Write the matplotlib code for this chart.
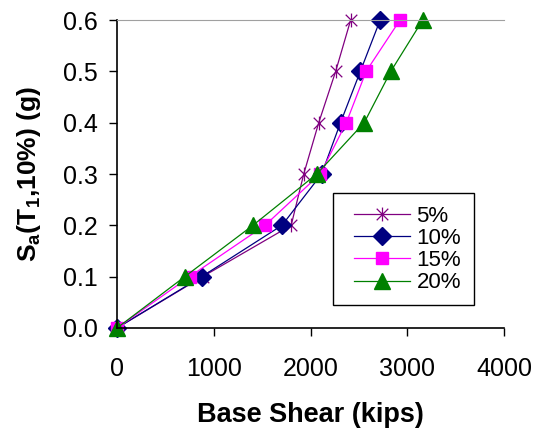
import matplotlib.pyplot as plt
from matplotlib.path import Path
from matplotlib.patches import Rectangle

plt.rcParams['font.family'] = ['Liberation Sans', 'DejaVu Sans']

# Sa(T1,10%) levels (g)
sa = [0.0, 0.1, 0.2, 0.3, 0.4, 0.5, 0.6]

# Base shear (kips) per damping level
shear_5 = [0, 885, 1800, 1930, 2085, 2260, 2415]
shear_10 = [0, 875, 1705, 2115, 2310, 2515, 2720]
shear_15 = [0, 750, 1530, 2100, 2370, 2575, 2925]
shear_20 = [0, 700, 1405, 2065, 2555, 2830, 3160]

labels = ["5%", "10%", "15%", "20%"]

# Excel-like star marker: X with a vertical bar
star = Path([(-1, -1), (1, 1), (-1, 1), (1, -1), (0, -1.2), (0, 1.2)],
            [Path.MOVETO, Path.LINETO, Path.MOVETO, Path.LINETO,
             Path.MOVETO, Path.LINETO])

fig = plt.figure(figsize=(5.35, 4.33), dpi=100)
ax = fig.add_axes([0.2187, 0.2425, 0.7234, 0.7113])

ax.plot(shear_5, sa, color="#800080", marker=star, ms=10, mew=0.9, lw=0.9,
        label=labels[0], clip_on=False)
ax.plot(shear_10, sa, color="#000080", marker="D", ms=9.5, lw=0.9,
        label=labels[1], clip_on=False)
ax.plot(shear_15, sa, color="#FF00FF", marker="s", ms=8.5, lw=0.9,
        label=labels[2], clip_on=False)
ax.plot(shear_20, sa, color="#008000", marker="^", ms=11, lw=0.9,
        label=labels[3], clip_on=False)

ax.set_xlim(0, 4000)
ax.set_ylim(0, 0.6)
ax.set_xticks([0, 1000, 2000, 3000, 4000])
ax.set_yticks(sa)
ax.set_yticklabels([f"{v:.1f}" for v in sa])

ax.spines["right"].set_visible(False)
ax.spines["top"].set_color("#a0a0a0")
ax.spines["left"].set_linewidth(1.2)
ax.spines["bottom"].set_linewidth(1.2)
ax.tick_params(direction="out", length=6, width=1.0, labelsize=18)
ax.tick_params(axis="y", pad=8)
ax.tick_params(axis="x", pad=15)

ax.set_xlabel("Base Shear (kips)", fontsize=19.5, fontweight="bold", labelpad=15)
ax.set_ylabel(r"S$_\mathregular{a}$(T$_\mathregular{1}$,10%) (g)", fontsize=19,
              fontweight="bold", labelpad=14)

leg = ax.legend(loc="lower right", bbox_to_anchor=(0.935, 0.055), fontsize=16,
                frameon=False, handlelength=2.5, handletextpad=0.3,
                borderpad=0.3, labelspacing=0.05)

ax.add_patch(Rectangle((0.559, 0.075), 0.364, 0.362, transform=ax.transAxes,
                       fill=False, edgecolor="black", lw=1.0, clip_on=False))

fig.savefig("out.png", dpi=100)
